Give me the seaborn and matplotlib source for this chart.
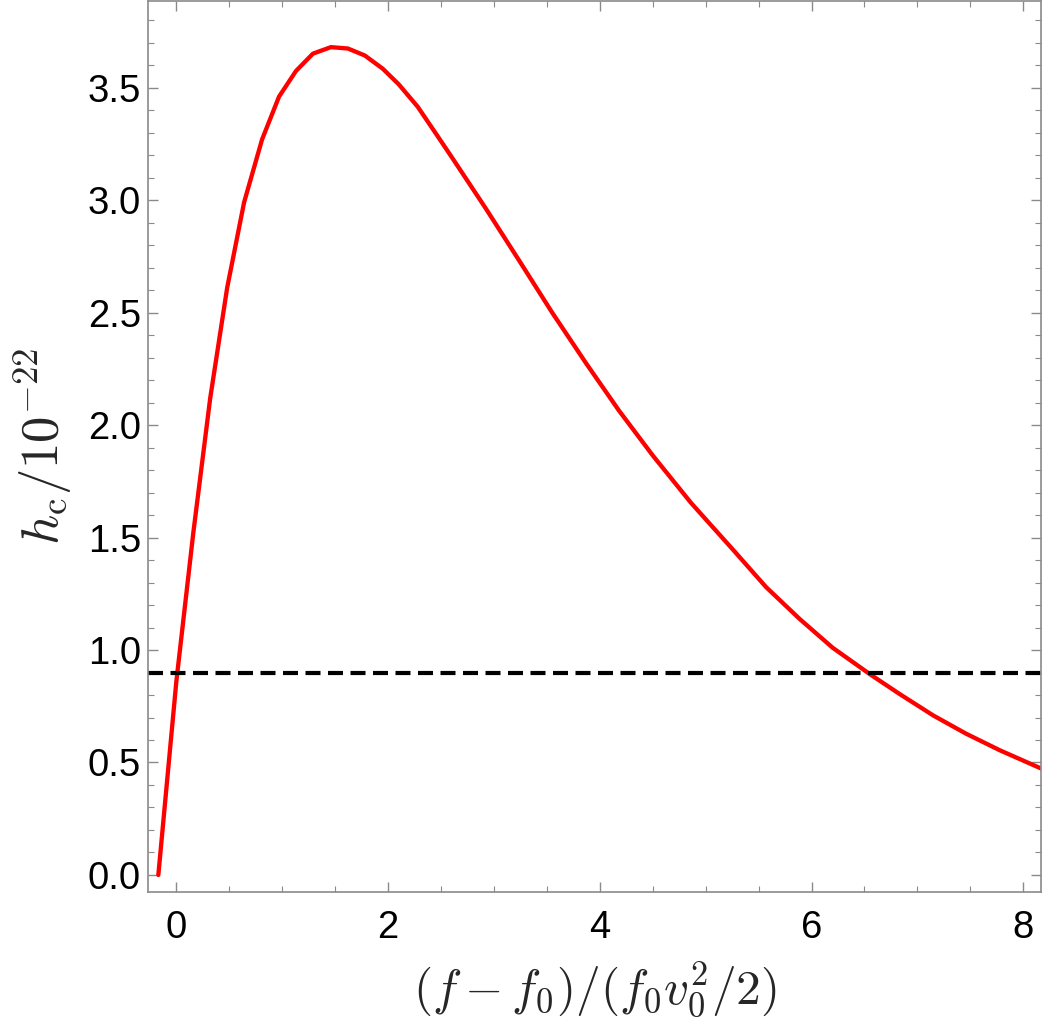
import numpy as np
import pandas as pd
import seaborn as sns
import matplotlib.pyplot as plt
from matplotlib.ticker import MultipleLocator

# curve
x_vals = [-0.17, 0.0, 0.16, 0.32, 0.48, 0.64, 0.81, 0.97, 1.13, 1.29, 1.46, 1.62,
          1.78, 1.95, 2.10, 2.28, 2.46, 2.61, 2.92, 3.24, 3.55, 3.87, 4.18, 4.50,
          4.86, 5.26, 5.57, 5.89, 6.20, 6.55, 6.83, 7.15, 7.46, 7.78, 8.17]
h_vals = [0.0, 0.86, 1.52, 2.12, 2.61, 2.99, 3.27, 3.46, 3.574, 3.651, 3.680, 3.674,
          3.643, 3.584, 3.515, 3.415, 3.29, 3.185, 2.965, 2.73, 2.50, 2.275, 2.065, 1.865,
          1.655, 1.445, 1.28, 1.137, 1.01, 0.893, 0.805, 0.709, 0.628, 0.554, 0.473]
threshold = 0.9

x_ticks = [0, 2, 4, 6, 8]
y_ticks = [0.0, 0.5, 1.0, 1.5, 2.0, 2.5, 3.0, 3.5]

df = pd.DataFrame({'x': x_vals, 'h': h_vals})

sns.set_style("ticks")
plt.rcParams['font.family'] = ['Liberation Sans', 'DejaVu Sans']
plt.rcParams['mathtext.fontset'] = 'cm'

fig = plt.figure(figsize=(10.42, 10.30), dpi=100)
ax = fig.add_axes([0.142, 0.134, 0.857, 0.865])

sns.lineplot(data=df, x='x', y='h', ax=ax, color='#ff0000', lw=3.1,
             estimator=None, sort=False)
ax.axhline(threshold, color='black', lw=3, dashes=(3.6, 1.8))

ax.set_xlim(-0.268, 8.167)
ax.set_ylim(-0.0756, 3.885)
ax.set_xticks(x_ticks)
ax.set_xticklabels([str(t) for t in x_ticks])
ax.set_yticks(y_ticks)
ax.set_yticklabels(['%.1f' % t for t in y_ticks])
ax.xaxis.set_minor_locator(MultipleLocator(0.5))
ax.yaxis.set_minor_locator(MultipleLocator(0.1))

gray = '#8a8a8a'
for s in ax.spines.values():
    s.set_color(gray)
    s.set_linewidth(1.2)
    s.set_visible(True)
ax.tick_params(which='both', direction='in', top=True, right=True, color=gray,
               labelcolor='black', labelsize=27.5)
ax.tick_params(which='major', length=7, width=1.0)
ax.tick_params(which='minor', length=4, width=0.8)
ax.tick_params(axis='x', pad=13)
ax.tick_params(axis='y', pad=5)

ax.set_xlabel(r'$(f-f_0)/(f_0 v_0^2/2)$', fontsize=35.5, labelpad=10)
ax.set_ylabel(r'$h_{\mathrm{c}}/10^{-22}$', fontsize=38, labelpad=10)

plt.savefig('out.png', dpi=100)
